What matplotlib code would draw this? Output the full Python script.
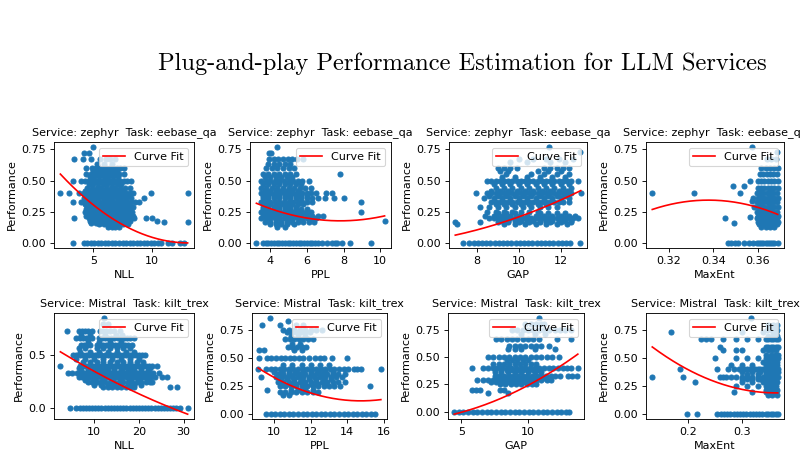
import numpy as np
import matplotlib
matplotlib.use("Agg")
import matplotlib.pyplot as plt

SUPTITLE = "Plug-and-play Performance Estimation for LLM Services"
services = ["zephyr", "zephyr", "zephyr", "zephyr", "Mistral", "Mistral", "Mistral", "Mistral"]
tasks = ["eebase_qa"] * 4 + ["kilt_trex"] * 4
metrics = ["NLL", "PPL", "GAP", "MaxEnt", "NLL", "PPL", "GAP", "MaxEnt"]

# performance level -> metric values
zephyr_nll = {
    0.0: [3.3, 4.2, 4.5, 4.8, 5.1, 5.4, 5.7, 6.0, 6.3, 6.6, 6.9, 7.2, 7.5, 7.8, 8.1, 8.4, 8.7, 9.0, 9.3, 9.6, 9.9, 10.2, 10.5, 10.8, 11.4, 11.7, 12.4, 12.7],
    0.13: [6.3, 6.6, 6.9, 7.2],
    0.15: [5.5, 5.9, 6.5, 7.0, 7.5, 8.0],
    0.16: [4.8, 5.2, 5.6, 6.0, 6.4, 6.8, 7.2, 7.6],
    0.17: [11.0, 13.05],
    0.18: [4.7, 5.0, 5.3, 5.6, 6.0, 6.3, 6.7, 7.1, 7.4, 7.8, 8.1, 10.4],
    0.2: [3.4, 4.6, 4.9, 5.2, 5.5, 5.8, 6.1, 6.4, 6.7, 7.0, 7.3, 7.6, 7.9, 8.2, 8.5, 9.5, 10.0],
    0.22: [4.4, 4.8, 5.2, 5.6, 6.0, 6.4, 6.8, 7.2, 7.6, 8.0, 8.4],
    0.24: [4.5, 4.9, 5.3, 5.7, 6.1, 6.5, 6.9, 7.3, 7.7, 8.1],
    0.25: [4.3, 4.6, 4.9, 5.2, 5.5, 5.8, 6.1, 6.4, 6.7, 7.0, 7.3, 7.6, 7.9, 8.3],
    0.27: [4.4, 4.8, 5.2, 5.6, 6.0, 6.4, 6.8, 7.2, 7.6, 8.0],
    0.29: [4.5, 4.9, 5.3, 5.7, 6.1, 6.5, 6.9, 7.3, 7.7, 8.1, 8.4],
    0.31: [4.3, 4.7, 5.1, 5.5, 5.9, 6.3, 6.7, 7.1, 7.5, 7.9],
    0.33: [3.3, 4.0, 4.3, 4.6, 4.9, 5.2, 5.5, 5.8, 6.1, 6.4, 6.7, 7.0, 7.3, 7.6, 7.9, 8.2, 8.6, 8.9],
    0.36: [4.2, 4.6, 5.0, 5.4, 5.8, 6.2, 6.6, 7.0, 7.4, 7.8, 8.2, 9.3],
    0.38: [4.4, 4.8, 5.2, 5.6, 6.0, 6.4, 6.8, 7.2, 7.6, 8.0],
    0.4: [2.2, 2.9, 3.8, 4.2, 4.5, 4.8, 5.1, 5.4, 5.7, 6.0, 6.3, 6.6, 6.9, 7.2, 7.5, 7.8, 8.1, 8.4, 9.9, 13.05],
    0.42: [4.3, 4.7, 5.1, 5.5, 5.9, 6.3, 6.7, 7.1, 7.5],
    0.44: [4.5, 4.9, 5.3, 5.7, 6.1, 6.5, 6.9, 7.3, 7.7, 8.1],
    0.47: [4.6, 5.0, 5.4, 5.8, 6.2, 6.6, 7.0, 7.4],
    0.5: [3.3, 4.0, 4.3, 4.6, 4.9, 5.2, 5.5, 5.8, 6.1, 6.4, 6.7, 7.0, 7.3, 7.6, 7.9, 8.2],
    0.53: [4.7, 5.1, 5.5, 5.9, 6.3, 6.7, 7.1],
    0.55: [4.4, 4.8, 5.2, 5.6, 6.0, 6.4, 6.8, 7.2, 7.6],
    0.58: [5.0, 5.4, 5.8, 6.2, 6.6, 7.0],
    0.6: [4.4, 4.9, 5.2, 5.5, 5.8, 6.1, 6.4, 6.7, 7.0, 7.3, 7.6],
    0.63: [5.3, 5.9, 6.6],
    0.67: [3.4, 4.1, 4.8, 5.6, 6.1, 6.4, 6.9],
    0.72: [4.2, 4.6],
    0.77: [4.95],
}
zephyr_ppl = {
    0.0: [3.25, 3.6, 3.75, 3.9, 4.05, 4.2, 4.35, 4.5, 4.65, 4.8, 4.95, 5.1, 5.25, 5.4, 5.55, 5.7, 5.85, 6.0, 6.15, 6.3, 6.45, 6.6, 6.8, 7.1, 7.35, 7.55, 7.65, 7.9, 8.35, 9.5],
    0.13: [4.4, 4.8],
    0.15: [4.0, 4.3, 4.6, 4.9, 5.3],
    0.17: [3.7, 4.0, 4.3, 4.6, 4.9, 5.2, 5.5, 5.8, 6.1, 6.4],
    0.18: [10.24],
    0.2: [3.5, 3.75, 4.0, 4.25, 4.5, 4.75, 5.0, 5.25, 5.5, 5.75, 6.0, 6.25, 6.5],
    0.22: [3.6, 3.9, 4.2, 4.5, 4.8, 5.1, 5.4, 5.7, 6.0, 6.3, 6.6, 6.9],
    0.24: [3.7, 4.0, 4.3, 4.6, 4.9, 5.2, 5.5, 5.8],
    0.25: [3.5, 3.75, 4.0, 4.25, 4.5, 4.75, 5.0, 5.25, 5.5, 5.75, 6.0, 6.2, 8.95],
    0.27: [3.6, 3.9, 4.2, 4.5, 4.8, 5.1, 5.4, 5.7, 6.0],
    0.29: [3.6, 3.9, 4.2, 4.5, 4.8, 5.1, 5.4],
    0.31: [3.7, 4.0, 4.3, 4.6, 4.9, 5.2, 5.5, 5.8],
    0.33: [3.5, 3.75, 4.0, 4.25, 4.5, 4.75, 5.0, 5.25, 5.5, 5.75, 6.0, 6.3, 8.95],
    0.36: [3.6, 3.9, 4.2, 4.5, 4.8, 5.1, 5.4, 5.7, 6.0, 6.3, 6.6, 7.0, 7.5, 8.05],
    0.38: [3.6, 3.9, 4.2, 4.5, 4.8, 5.1, 5.4, 5.7, 6.0],
    0.4: [3.5, 3.75, 4.0, 4.25, 4.5, 4.75, 5.0, 5.25, 5.5, 5.75, 6.0, 6.25, 6.5, 7.05, 7.35],
    0.42: [3.7, 4.0, 4.3, 4.6, 4.9, 5.2, 5.5],
    0.44: [3.5, 3.8, 4.1, 4.4, 4.7, 5.0, 5.3, 5.6, 5.9, 6.2],
    0.47: [3.6, 3.9, 4.2, 4.5, 4.8, 5.1, 5.4, 5.7],
    0.5: [3.5, 3.75, 4.0, 4.25, 4.5, 4.75, 5.0, 5.25, 5.5, 5.75, 6.1],
    0.53: [3.7, 4.0, 4.3, 4.6, 4.9, 5.2],
    0.55: [3.6, 3.9, 4.2, 4.5, 4.8, 5.1, 5.4, 7.8],
    0.6: [3.8, 4.1, 4.4, 4.7, 5.0, 5.3],
    0.63: [3.9, 4.2, 4.5, 4.8, 5.1],
    0.67: [3.95, 4.2, 4.45, 4.7, 4.95, 5.2, 5.45, 5.8],
    0.72: [3.95, 4.07],
    0.77: [4.35],
}
zephyr_gap = {
    0.0: [7.35, 7.65, 7.85, 8.05, 8.25, 8.45, 8.65, 8.85, 9.05, 9.25, 9.45, 9.65, 9.85, 10.05, 10.25, 10.45, 10.65, 10.85, 11.05, 11.25, 11.45, 11.65, 11.85, 12.05, 12.25, 12.45, 12.9],
    0.15: [7.05, 9.3, 9.8, 10.3, 10.8, 11.3, 11.8, 12.3],
    0.17: [6.98, 8.15, 9.0, 9.5, 10.0, 10.5, 11.0, 11.5, 12.0, 12.5],
    0.18: [9.2, 9.5, 9.8, 10.1, 10.4, 10.7, 11.0, 11.3, 11.6, 11.9, 12.2, 12.5],
    0.2: [8.6, 8.8, 9.0, 9.2, 9.4, 9.6, 9.8, 10.0, 10.2, 10.4, 10.6, 10.8, 11.0, 11.2, 11.4, 11.6, 11.8, 12.0, 12.2, 12.4, 12.6, 12.8],
    0.22: [8.4, 8.8, 9.2, 9.6, 10.0, 10.4, 10.8, 11.2, 11.6, 12.0, 12.4, 12.7],
    0.24: [9.0, 9.4, 9.8, 11.0, 11.4, 11.8, 12.2],
    0.25: [8.5, 8.9, 9.3, 9.7, 10.1, 10.5, 10.9],
    0.29: [8.15, 8.6, 9.0, 9.4, 9.8, 10.2, 10.6, 11.0, 11.4, 11.8],
    0.31: [8.9, 9.3, 9.7, 10.1, 10.5, 10.9, 11.3],
    0.33: [8.7, 8.9, 9.1, 9.3, 9.5, 9.7, 9.9, 10.1, 10.3, 10.5, 10.7, 10.9, 11.1, 11.3, 11.5, 11.7, 11.9, 12.1, 12.4],
    0.36: [8.35, 8.8, 9.2, 9.6, 10.0, 10.4, 10.8, 11.2, 11.6, 12.0, 12.4],
    0.38: [8.6, 9.0, 9.4, 9.8, 10.2, 10.6, 11.0, 11.4, 11.8, 12.2],
    0.4: [7.95, 8.5, 8.7, 8.9, 9.1, 9.3, 9.5, 9.7, 9.9, 10.1, 10.3, 10.5, 10.7, 10.9, 11.1, 11.3, 11.5, 11.7, 11.9, 12.1, 12.3, 12.5, 12.95],
    0.42: [8.7, 9.1, 9.5, 9.9, 10.3, 10.7, 11.1, 11.5, 11.9, 12.3],
    0.44: [8.9, 9.3, 9.7, 10.1, 10.5, 10.9, 11.3, 11.7, 12.1, 12.5],
    0.47: [8.8, 9.2, 9.6, 10.0, 10.4, 10.8, 11.2, 11.6, 12.0, 12.4],
    0.5: [8.5, 8.7, 8.9, 9.1, 9.3, 9.5, 9.7, 9.9, 10.1, 10.3, 10.5, 10.7, 10.9, 11.1, 11.3, 11.5, 11.7, 11.9, 12.1, 12.3, 12.5, 12.8],
    0.53: [9.2, 9.8, 10.4, 11.0, 11.6, 12.2],
    0.55: [9.4, 10.6, 11.2, 11.8, 12.4],
    0.58: [9.1, 9.5, 10.9, 11.4, 12.0],
    0.6: [9.0, 9.3, 9.6, 9.9, 11.2, 11.5, 11.8, 12.1, 12.4],
    0.65: [9.6, 10.4, 11.5, 12.2],
    0.67: [10.0, 10.7, 11.3, 11.9, 12.6],
    0.73: [12.9],
    0.77: [11.45],
}
zephyr_maxent = {
    0.0: [0.3465, 0.348, 0.3495, 0.351, 0.354, 0.356, 0.358, 0.3595, 0.3605, 0.3615, 0.3625, 0.3635, 0.3645, 0.3655, 0.3665, 0.3675, 0.3690],
    0.13: [0.3615, 0.3635, 0.3655, 0.3675],
    0.15: [0.3605, 0.3625, 0.3645, 0.3665, 0.3685],
    0.163: [0.3494],
    0.17: [0.3600, 0.3615, 0.3630, 0.3645, 0.3660, 0.3675, 0.3690],
    0.2: [0.3452, 0.3595, 0.3610, 0.3625, 0.3640, 0.3655, 0.3670, 0.3685],
    0.21: [0.3564],
    0.22: [0.3600, 0.3615, 0.3630, 0.3645, 0.3660, 0.3675, 0.3690],
    0.25: [0.3595, 0.3610, 0.3625, 0.3640, 0.3655, 0.3670, 0.3685],
    0.29: [0.3585, 0.3600, 0.3615, 0.3630, 0.3645, 0.3660, 0.3675, 0.3690],
    0.33: [0.3595, 0.3610, 0.3625, 0.3640, 0.3655, 0.3670, 0.3685],
    0.34: [0.3574],
    0.36: [0.3580, 0.3600, 0.3615, 0.3630, 0.3645, 0.3660, 0.3675, 0.3690],
    0.4: [0.3124, 0.3313, 0.352, 0.3595, 0.3610, 0.3625, 0.3640, 0.3655, 0.3670, 0.3685],
    0.44: [0.3600, 0.3615, 0.3630, 0.3645, 0.3660, 0.3675, 0.3690],
    0.46: [0.349, 0.3537],
    0.5: [0.3567, 0.3600, 0.3615, 0.3630, 0.3645, 0.3660, 0.3675, 0.3690],
    0.55: [0.3610, 0.3625, 0.3640, 0.3655, 0.3670, 0.3685],
    0.6: [0.3615, 0.3635, 0.3655, 0.3675, 0.3690],
    0.67: [0.3640, 0.3660, 0.3680],
    0.73: [0.3685],
    0.77: [0.3574],
}
mistral_nll = {
    0.0: [4.5, 6.0, 6.7, 7.4, 8.1, 8.8, 9.5, 10.2, 10.9, 11.6, 12.3, 13.0, 13.7, 14.4, 15.1, 15.8, 16.5, 17.2, 17.9, 18.6, 19.3, 20.0, 20.7, 21.4, 22.1, 22.8, 23.5, 24.2, 24.9, 25.6, 26.3, 27.0, 27.7, 28.4, 29.1, 30.9],
    0.2: [12.0, 13.0, 14.0, 15.0, 16.0, 17.0, 18.0, 19.0, 27.0, 28.5],
    0.22: [10.0, 11.5, 13.0, 14.5, 16.0, 17.5, 19.0, 20.5],
    0.25: [8.5, 9.5, 10.5, 11.5, 12.5, 13.5, 14.5, 15.5, 16.5, 17.5, 18.5, 19.5, 20.5, 21.5, 22.5, 23.0],
    0.27: [8.0, 10.0, 12.0, 14.0, 16.0, 18.0, 20.0, 22.0],
    0.29: [6.5, 7.2, 7.9, 8.6, 9.3, 10.0, 10.7, 11.4, 12.1, 12.8, 13.5, 14.2, 14.9, 15.6, 16.3, 17.0, 17.7, 18.4, 19.1, 19.8, 20.5, 21.2, 21.9, 22.6, 23.5, 25.1, 26.3],
    0.31: [7.0, 9.0, 11.0, 13.0, 15.0, 17.0, 19.0, 21.0, 23.0],
    0.33: [4.2, 5.0, 6.2, 6.9, 7.6, 8.3, 9.0, 9.7, 10.4, 11.1, 11.8, 12.5, 13.2, 13.9, 14.6, 15.3, 16.0, 16.7, 17.4, 18.1, 18.8, 19.5, 20.2, 20.9, 21.6, 22.3, 23.2, 24.5],
    0.36: [7.0, 8.5, 10.0, 11.5, 13.0, 14.5, 16.0, 17.5, 19.0, 20.5, 22.0],
    0.38: [6.5, 8.5, 10.5, 12.5, 14.5, 16.5, 18.5, 20.5, 22.5],
    0.4: [2.4, 6.8, 7.5, 8.2, 8.9, 9.6, 10.3, 11.0, 11.7, 12.4, 13.1, 13.8, 14.5, 15.2, 15.9, 16.6, 17.3, 18.0, 18.7, 19.4, 20.1, 20.8, 21.5, 22.2, 22.9, 24.0],
    0.44: [7.5, 9.0, 10.5, 12.0, 13.5, 15.0, 16.5, 18.0, 19.5, 21.0],
    0.47: [6.0, 8.0, 10.0, 12.0, 14.0, 16.0, 18.0, 20.0],
    0.5: [5.3, 6.0, 6.7, 7.4, 8.1, 8.8, 9.5, 10.2, 10.9, 11.6, 12.3, 13.0, 13.7, 14.4, 15.1, 15.8, 16.5, 17.2, 17.9, 18.6, 19.3, 20.0, 20.7, 21.4],
    0.53: [6.8, 9.0, 11.0, 13.0, 15.0, 17.0, 19.0],
    0.57: [6.5, 8.0, 10.5, 12.0, 13.5, 15.0, 16.5, 18.0],
    0.6: [7.0, 7.7, 8.4, 9.1, 10.5, 11.2, 11.9, 12.6, 13.3, 14.0, 14.7, 15.4, 16.1, 16.8, 17.5, 18.5],
    0.63: [8.5, 11.0, 13.5, 16.0],
    0.67: [6.0, 6.7, 7.4, 8.1, 8.8, 9.5, 11.0, 11.7, 12.4, 13.1, 13.8, 14.5, 15.2, 15.9, 16.6, 17.3, 18.0, 18.8],
    0.7: [7.0, 9.0, 12.5, 14.8, 16.3],
    0.73: [3.8, 6.5, 7.2, 8.0, 8.7, 9.4, 11.3, 12.0, 12.7, 13.5, 14.3, 15.8],
    0.8: [12.0, 13.0],
    0.86: [12.2],
}
mistral_ppl = {
    0.0: [9.55, 9.8, 10.05, 10.3, 10.55, 10.8, 11.05, 11.3, 11.55, 11.8, 12.05, 12.3, 12.55, 12.8, 13.05, 13.3, 13.55, 13.8, 14.05, 14.3, 14.55, 14.8, 15.05, 15.3, 15.5],
    0.17: [10.5, 10.8],
    0.2: [10.3, 10.6, 10.9, 11.2, 11.5, 11.8, 12.1, 12.4],
    0.22: [9.6, 10.9, 11.3, 11.7, 12.1],
    0.25: [10.3, 10.6, 10.9, 11.2, 11.5, 11.8, 12.1, 12.4, 12.7, 13.0, 13.3, 13.6, 15.26],
    0.27: [10.4, 10.8, 11.2, 11.6, 12.0, 12.4, 12.8],
    0.29: [10.2, 10.5, 10.8, 11.1, 11.4, 11.7, 12.0, 12.3, 12.6, 12.9, 13.2, 13.5, 13.85],
    0.31: [10.3, 10.7, 11.1, 11.5, 11.9, 12.3, 12.7, 13.1],
    0.33: [9.25, 10.1, 10.4, 10.7, 11.0, 11.3, 11.6, 11.9, 12.2, 12.5, 12.8, 13.1, 13.4, 13.7],
    0.36: [10.2, 10.5, 10.8, 11.1, 11.4, 11.7, 12.0, 12.3, 12.6, 12.9, 13.2, 13.5, 13.85],
    0.38: [10.0, 10.4, 10.8, 11.2, 11.6, 12.0, 12.4, 12.8, 13.2],
    0.4: [9.12, 9.55, 9.8, 10.05, 10.3, 10.55, 10.8, 11.05, 11.3, 11.55, 11.8, 12.05, 12.3, 12.55, 12.8, 13.05, 13.3, 13.55, 13.8, 14.05, 14.35, 14.55, 14.75, 15.84],
    0.44: [10.5, 11.0, 11.5, 12.0, 12.5, 13.0],
    0.5: [9.17, 9.6, 9.85, 10.1, 10.35, 10.6, 10.85, 11.1, 11.35, 11.6, 11.9, 12.26, 12.5, 12.75, 13.14, 14.0],
    0.57: [9.17, 9.44, 11.1, 11.5],
    0.6: [10.76, 11.0, 11.25, 11.5, 11.75],
    0.63: [11.0, 11.4],
    0.67: [10.58, 10.85, 11.1, 11.35, 11.6, 11.85, 12.1],
    0.7: [10.9, 11.3, 11.7],
    0.73: [10.7, 10.95, 11.2, 11.45, 11.7, 11.95],
    0.75: [10.5, 10.8, 11.1, 11.4, 11.7, 12.0, 12.3, 12.6],
    0.8: [9.35, 10.3, 11.2, 11.6],
    0.83: [10.76],
    0.86: [9.79],
}
mistral_gap = {
    0.0: [4.45, 4.8, 5.15, 5.5, 5.85, 6.2, 6.55, 6.9, 7.25, 7.6, 7.95, 8.3, 8.65, 9.0, 9.35, 9.7, 10.05, 10.4, 10.75, 11.1, 11.45, 11.8, 12.15, 12.5, 12.85, 13.1],
    0.17: [7.0, 8.5],
    0.2: [5.8, 6.1, 6.4, 7.9, 8.2],
    0.25: [7.9, 8.3, 8.7, 9.1, 9.5, 9.9, 10.3, 10.6],
    0.27: [7.2, 7.6, 8.0, 8.4, 8.8, 9.2, 9.6, 10.0],
    0.29: [6.2, 6.6, 7.0, 7.4, 7.8, 8.2, 8.6, 9.0, 9.4, 9.8, 10.2, 10.6, 11.0, 11.4, 11.7],
    0.31: [7.6, 8.0, 8.4, 8.8, 9.2, 9.6, 10.0, 10.4, 10.8, 11.2],
    0.33: [7.5, 7.85, 8.2, 8.55, 8.9, 9.25, 9.6, 9.95, 10.3, 10.65, 11.0, 11.35, 11.7, 12.05, 12.4, 13.0, 13.3, 13.7],
    0.36: [7.5, 8.0, 8.5, 9.0, 9.5, 10.0, 10.5, 11.0],
    0.38: [8.0, 8.4, 8.8, 9.2, 9.6, 10.0, 10.4, 10.8],
    0.4: [5.78, 6.64, 7.0, 7.35, 7.7, 8.05, 8.4, 8.75, 9.1, 9.45, 9.8, 10.15, 10.5, 10.85, 11.2, 11.55, 11.9, 12.25, 12.6, 12.95, 13.26, 13.75],
    0.44: [7.4, 7.8, 8.2, 8.6, 9.0, 9.4, 9.8, 10.2, 10.6],
    0.47: [8.4, 8.8, 9.2, 9.6, 10.0],
    0.5: [7.0, 7.4, 7.8, 8.2, 8.6, 9.0, 9.4, 9.8, 10.2, 10.6, 11.0, 11.4, 11.8, 12.3],
    0.57: [8.5, 9.0, 9.5, 10.5, 12.0],
    0.6: [8.6, 9.0, 9.4, 9.8, 10.2, 10.6, 11.0, 11.6],
    0.67: [7.6, 8.0, 8.4, 8.8, 9.2, 9.6, 10.0, 10.4, 10.8, 12.2, 13.2],
    0.71: [9.5, 10.5, 11.3],
    0.75: [8.8, 9.2, 9.6, 10.0, 10.4, 10.8, 11.2, 11.6, 12.0, 12.4, 12.8, 13.2],
    0.8: [9.8, 10.2, 10.6, 11.0, 11.2],
    0.86: [10.8],
}
mistral_maxent = {
    0.0: [0.198, 0.217, 0.253, 0.261, 0.267, 0.273, 0.279, 0.285, 0.291, 0.297, 0.303, 0.309, 0.315, 0.321, 0.327, 0.333, 0.339, 0.345, 0.350, 0.355, 0.360, 0.365, 0.368],
    0.17: [0.350, 0.358, 0.366],
    0.2: [0.285, 0.320, 0.345, 0.350, 0.355, 0.360, 0.365],
    0.22: [0.345, 0.352, 0.360, 0.366],
    0.25: [0.290, 0.310, 0.330, 0.345, 0.350, 0.355, 0.360, 0.365],
    0.29: [0.212, 0.300, 0.320, 0.340, 0.348, 0.355, 0.362, 0.367],
    0.31: [0.300, 0.310, 0.320, 0.330, 0.335, 0.340, 0.345, 0.350, 0.355, 0.360, 0.365],
    0.33: [0.132, 0.190, 0.260, 0.265, 0.270, 0.280, 0.290, 0.300, 0.310, 0.320, 0.330, 0.340, 0.345, 0.350, 0.355, 0.360, 0.365, 0.368],
    0.36: [0.310, 0.330, 0.345, 0.350, 0.355, 0.360, 0.365],
    0.38: [0.300, 0.320, 0.335, 0.345, 0.355, 0.362, 0.368],
    0.4: [0.185, 0.253, 0.275, 0.285, 0.295, 0.300, 0.305, 0.310, 0.315, 0.320, 0.325, 0.330, 0.335, 0.340, 0.345, 0.350, 0.355, 0.360, 0.365, 0.368],
    0.44: [0.280, 0.300, 0.320, 0.345, 0.352, 0.360, 0.366],
    0.47: [0.340, 0.350, 0.360, 0.367],
    0.5: [0.250, 0.290, 0.310, 0.330, 0.345, 0.350, 0.355, 0.360, 0.365, 0.368],
    0.53: [0.345, 0.355, 0.362, 0.368],
    0.57: [0.265, 0.290, 0.300, 0.340, 0.350, 0.358, 0.364],
    0.6: [0.259, 0.345, 0.350, 0.355, 0.360, 0.365, 0.368],
    0.67: [0.224, 0.233, 0.242, 0.265, 0.290, 0.310, 0.330, 0.345, 0.350, 0.355, 0.360, 0.365, 0.368],
    0.7: [0.350, 0.360, 0.367],
    0.73: [0.168, 0.300, 0.340, 0.360, 0.365],
    0.75: [0.348, 0.356, 0.362, 0.367],
    0.8: [0.350, 0.360, 0.366],
    0.86: [0.318],
}

curve_zephyr_nll = ([2.2, 5.0, 10.0, 13.1], [0.56, 0.29, 0.063, -0.005])
curve_zephyr_ppl = ([3.2, 6.0, 7.5, 10.24], [0.32, 0.21, 0.17, 0.22])
curve_zephyr_gap = ([7.0, 10.0, 12.95], [0.065, 0.21, 0.42])
curve_zephyr_maxent = ([0.3125, 0.337, 0.369], [0.27, 0.344, 0.23])
curve_mistral_nll = ([2.4, 15.0, 31.0], [0.535, 0.236, -0.063])
curve_mistral_ppl = ([9.1, 12.0, 14.7, 15.84], [0.414, 0.19, 0.117, 0.131])
curve_mistral_gap = ([4.45, 10.0, 13.9], [-0.024, 0.24, 0.54])
curve_mistral_maxent = ([0.132, 0.25, 0.368], [0.60, 0.29, 0.19])

panels = [zephyr_nll, zephyr_ppl, zephyr_gap, zephyr_maxent,
          mistral_nll, mistral_ppl, mistral_gap, mistral_maxent]
curves = [curve_zephyr_nll, curve_zephyr_ppl, curve_zephyr_gap, curve_zephyr_maxent,
          curve_mistral_nll, curve_mistral_ppl, curve_mistral_gap, curve_mistral_maxent]

W, H = 800.0, 450.0
# axes boxes in pixels: (left, top, right, bottom)
boxes = [(54, 142, 194, 248), (250, 142, 391, 248), (449, 142, 587, 248), (646, 142, 784, 248),
         (54, 313, 194, 419), (252, 313, 387, 419), (448, 313, 584, 419), (646, 313, 784, 419)]

fig = plt.figure(figsize=(10, 5.625), dpi=80)
fig.text(462 / W, 1 - 70 / H, SUPTITLE, ha="center", va="baseline",
         fontsize=22, family="cmr10")

for i, (data, (cx, cy)) in enumerate(zip(panels, curves)):
    l, t, r, b = boxes[i]
    ax = fig.add_axes([l / W, 1 - b / H, (r - l) / W, (b - t) / H])
    xs, ys = [], []
    for lvl, vals in data.items():
        xs.extend(vals)
        ys.extend([lvl] * len(vals))
    xs = np.array(xs)
    ys = np.array(ys)
    ax.scatter(xs, ys, s=20, color="#1f77b4")
    coef = np.polyfit(cx, cy, 2)
    xx = np.linspace(xs.min(), xs.max(), 200)
    ax.plot(xx, np.polyval(coef, xx), color="red", label="Curve Fit")
    ax.set_title(f"Service: {services[i]}  Task: {tasks[i]}", fontsize=10)
    ax.set_xlabel(metrics[i])
    ax.set_ylabel("Performance")
    ax.legend(loc="upper right")

fig.savefig("out.png", dpi=80)
